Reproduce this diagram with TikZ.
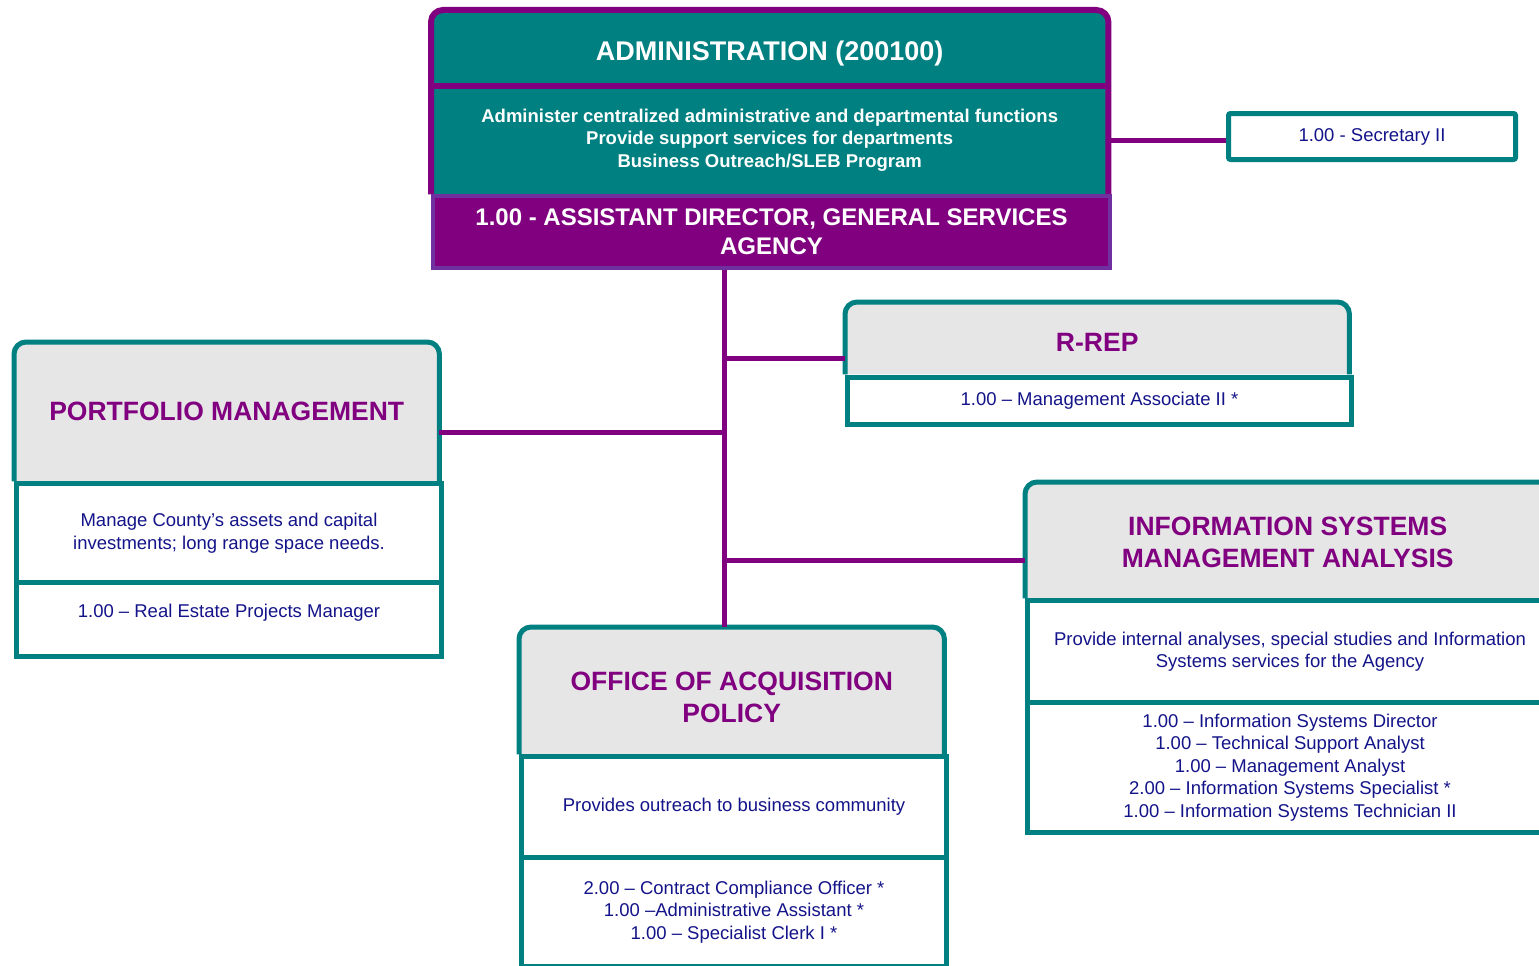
\documentclass[tikz,border=0pt]{standalone}
\usepackage{fontspec}
\setmainfont{Liberation Sans}
\usetikzlibrary{backgrounds}

\definecolor{gsTeal}{HTML}{008080}
\definecolor{gsPurple}{HTML}{800080}
\definecolor{gsViolet}{HTML}{7030A0}
\definecolor{gsNavy}{HTML}{14148A}
\definecolor{gsGray}{HTML}{E6E6E6}

\newcommand\gsHead{\fontsize{26.5}{32}\selectfont\bfseries}
\newcommand\gsTitle{\fontsize{27}{30}\selectfont\bfseries}
\newcommand\gsBand{\fontsize{24}{29}\selectfont\bfseries}
\newcommand\gsBold{\fontsize{18.5}{22.5}\selectfont\bfseries}
\newcommand\gsBody{\fontsize{18.5}{22.5}\selectfont}

\tikzset{
  cell/.style={inner sep=0pt, anchor=north west, align=center},
  unitbox/.style={cell, draw=gsTeal, line width=5pt, fill=white,
                  text=gsNavy, font=\gsBody},
  unithead/.style={cell, text=gsPurple, font=\gsHead},
  headframe/.style={draw=gsTeal, line width=5pt, fill=gsGray, rounded corners=12pt},
  link/.style={draw=gsPurple, line width=5pt}
}

\begin{document}
\begin{tikzpicture}[x=1pt, y=-1pt]
\clip (0,0) rectangle (1539,966);

% ---------- Administration ----------
\node[cell, minimum width=677pt, minimum height=76pt, text=white, font=\gsTitle]
  (adTitle) at (431,10) {\rule{0pt}{30pt}ADMINISTRATION (200100)};
\node[cell, minimum width=677pt, minimum height=108pt, text=white, font=\gsBold]
  (adDesc) at (431,86) {Administer centralized administrative and departmental functions\\
  Provide support services for departments\\Business Outreach/SLEB Program};
\node[cell, draw=gsViolet, line width=4pt, fill=gsPurple, minimum width=677pt,
  minimum height=72pt, text=white, font=\gsBand]
  (adBand) at (431,194) {1.00 - ASSISTANT DIRECTOR, GENERAL SERVICES\\AGENCY};

\node[unitbox, rounded corners=2pt, minimum width=287pt, minimum height=46pt]
  (sec) at (1226,111) {1.00 - Secretary II};

% ---------- R-REP ----------
\node[unithead, minimum width=504pt, minimum height=72pt] (rrH) at (845,302)
  {\rule{0pt}{27pt}R-REP};
\node[unitbox, minimum width=504pt, minimum height=47pt] (rrP) at (845,375)
  {1.00 -- Management Associate II *};

% ---------- Portfolio Management ----------
\node[unithead, minimum width=425pt, minimum height=139pt] (pmH) at (14,342)
  {PORTFOLIO MANAGEMENT};
\node[unitbox, minimum width=425pt, minimum height=99pt] (pmD) at (14,481)
  {Manage County’s assets and capital\\investments; long range space needs.};
\node[unitbox, minimum width=425pt, minimum height=74pt, text depth=18pt] (pmP) at (14,580)
  {1.00 -- Real Estate Projects Manager};

% ---------- Information Systems ----------
\node[unithead, minimum width=525pt, minimum height=116pt] (isH) at (1025,482)
  {\rule{0pt}{23pt}INFORMATION SYSTEMS\\MANAGEMENT ANALYSIS};
\node[unitbox, minimum width=525pt, minimum height=102pt] (isD) at (1025,598)
  {Provide internal analyses, special studies and Information\\Systems services for the Agency};
\node[unitbox, minimum width=525pt, minimum height=130pt] (isP) at (1025,700)
  {1.00 -- Information Systems Director\\1.00 -- Technical Support Analyst\\
   1.00 -- Management Analyst\\2.00 -- Information Systems Specialist *\\
   1.00 -- Information Systems Technician II};

% ---------- Office of Acquisition Policy ----------
\node[unithead, minimum width=425pt, minimum height=127pt] (oaH) at (519,627)
  {\rule{0pt}{31pt}OFFICE OF ACQUISITION\\POLICY};
\node[unitbox, minimum width=425pt, minimum height=101pt] (oaD) at (519,754)
  {Provides outreach to business community};
\node[unitbox, minimum width=425pt, minimum height=109pt] (oaP) at (519,855)
  {2.00 -- Contract Compliance Officer *\\1.00 --Administrative Assistant *\\
   1.00 -- Specialist Clerk I *};

\coordinate (trunk) at (724,0);

\begin{scope}[on background layer]
  \fill[white] (0,0) rectangle (1539,966);
  % administration frame with rounded top
  \draw[draw=gsPurple, line width=6pt, fill=gsTeal, rounded corners=12pt]
    (adDesc.south west) -- (adTitle.north west) -- (adTitle.north east) -- (adDesc.south east);
  \draw[gsPurple, line width=6pt] (adTitle.south west) -- (adTitle.south east);
  % unit headers with rounded top
  \foreach \h in {rrH, pmH, isH, oaH}
    \draw[headframe] (\h.south west) -- (\h.north west) -- (\h.north east) -- (\h.south east);
  % reporting lines
  \draw[link] (adBand.south -| trunk) -- (oaH.north -| trunk);
  \draw[link] (adDesc.east) -- (sec.west |- adDesc.east);
  \draw[link] ([yshift=-20pt]rrH.west) -- ([yshift=-20pt]rrH.west -| trunk);
  \draw[link] ([yshift=-20.5pt]pmH.east) -- ([yshift=-20.5pt]pmH.east -| trunk);
  \draw[link] ([yshift=-20pt]isH.west) -- ([yshift=-20pt]isH.west -| trunk);
\end{scope}
\end{tikzpicture}
\end{document}
